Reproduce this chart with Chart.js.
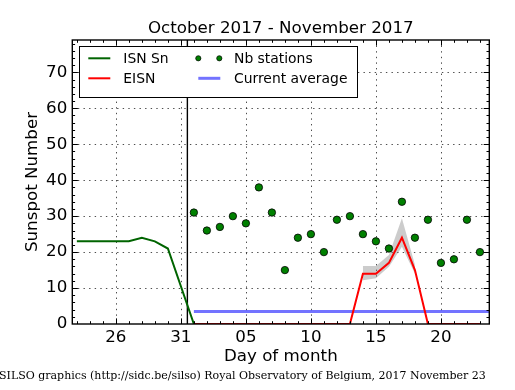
<!DOCTYPE html>
<html><head><meta charset="utf-8">
<script src="https://cdn.jsdelivr.net/npm/chart.js@4.4.0/dist/chart.umd.min.js"></script>
<style>html,body{margin:0;padding:0;background:#fff;overflow:hidden}</style>
</head><body><canvas id="c" width="515" height="390"></canvas>
<script>
const titleText = 'October 2017 - November 2017';
const xAxisTitle = 'Day of month';
const yAxisTitle = 'Sunspot Number';
const footerText = 'SILSO graphics (http://sidc.be/silso) Royal Observatory of Belgium, 2017 November 23';

// x = day count from 30 September 2017 (Oct 1 = 1, Nov 1 = 32)
const xTickDays = [26, 31, 36, 41, 46, 51];
const xTickLabels = ['26', '31', '05', '10', '15', '20'];
const yTickValues = [0, 10, 20, 30, 40, 50, 60, 70];
const monthBoundary = 31.5;

const isnDays   = [23, 24, 25, 26, 27, 28, 29, 30, 31, 32];
const isnValues = [23, 23, 23, 23, 23, 24, 23, 21, null, 0];

const eisnDays   = [32,33,34,35,36,37,38,39,40,41,42,43,44,45,46,47,48,49,50,51,52,53,54];
const eisnValues = [0,0,0,0,0,0,0,0,0,0,0,0,0,14,14,17,24,15,0,0,0,0,0];

const stationDays   = [32,33,34,35,36,37,38,39,40,41,42,43,44,45,46,47,48,49,50,51,52,53,54];
const stationValues = [31,26,27,30,28,38,31,15,24,25,20,29,30,25,23,21,34,24,29,17,18,29,20];

const bandDays  = [45, 46, 47, 48, 49];
const bandUpper = [16.1, 16.1, 19.2, 29.4, 16.5];
const bandLower = [12.2, 12.7, 15.9, 21.5, 14.0];

const avgDays   = [32, 55];
const avgValues = [3.5, 3.5];

const pts = (xs, ys) => xs.map((d, i) => ({x: d, y: ys[i]}));
const FONT = '"DejaVu Sans", sans-serif';

const ink = {
  id: 'ink',
  beforeDatasetsDraw(chart) {
    const {ctx, chartArea: a, scales: {x, y}} = chart;
    ctx.save();
    ctx.strokeStyle = '#000';
    ctx.lineWidth = 0.7;
    ctx.setLineDash([1.4, 4.2]);
    xTickDays.forEach(d => {
      const px = Math.round(x.getPixelForValue(d)) + 0.5;
      ctx.beginPath(); ctx.moveTo(px, a.top); ctx.lineTo(px, a.bottom); ctx.stroke();
    });
    yTickValues.forEach(v => {
      if (v === 0) return;
      const py = Math.round(y.getPixelForValue(v)) + 0.5;
      ctx.beginPath(); ctx.moveTo(a.left, py); ctx.lineTo(a.right, py); ctx.stroke();
    });
    ctx.setLineDash([]);
    ctx.lineWidth = 1.4;
    const bx = x.getPixelForValue(monthBoundary);
    ctx.beginPath(); ctx.moveTo(bx, a.top); ctx.lineTo(bx, a.bottom); ctx.stroke();
    ctx.restore();
  },
  afterDraw(chart) {
    const {ctx, chartArea: a, scales: {x, y}} = chart;
    ctx.save();
    // ticks (inward, all sides)
    ctx.strokeStyle = '#000';
    ctx.lineWidth = 1;
    const xMin = Math.ceil(x.min), xMax = Math.floor(x.max);
    for (let d = xMin; d <= xMax; d++) {
      const L = xTickDays.includes(d) ? 5.6 : 2.8;
      const px = Math.round(x.getPixelForValue(d)) + 0.5;
      ctx.beginPath();
      ctx.moveTo(px, a.bottom); ctx.lineTo(px, a.bottom - L);
      ctx.moveTo(px, a.top); ctx.lineTo(px, a.top + L);
      ctx.stroke();
    }
    for (let v = 2; v < y.max; v += 2) {
      const L = yTickValues.includes(v) ? 5.6 : 2.8;
      const py = Math.round(y.getPixelForValue(v)) + 0.5;
      ctx.beginPath();
      ctx.moveTo(a.left, py); ctx.lineTo(a.left + L, py);
      ctx.moveTo(a.right, py); ctx.lineTo(a.right - L, py);
      ctx.stroke();
    }
    // frame
    ctx.lineWidth = 1.4;
    ctx.strokeRect(a.left, a.top, a.right - a.left, a.bottom - a.top);

    // legend
    const ds = chart.data.datasets;
    const lx = 79, ly = 46, lw = 278, lh = 51;
    ctx.fillStyle = '#fff';
    ctx.fillRect(lx, ly, lw, lh);
    ctx.lineWidth = 1;
    ctx.strokeRect(lx + 0.5, ly + 0.5, lw, lh);
    ctx.font = '13.9px ' + FONT;
    ctx.textBaseline = 'alphabetic';
    ctx.textAlign = 'left';
    const entries = [
      {d: ds[2], col: 0, row: 0},
      {d: ds[1], col: 0, row: 1},
      {d: ds[0], col: 1, row: 0},
      {d: ds[3], col: 1, row: 1}
    ];
    entries.forEach(e => {
      const x0 = e.col === 0 ? 88.3 : 198.3;
      const tx = e.col === 0 ? 123.3 : 234;
      const cy = e.row === 0 ? 58.3 : 78.3;
      if (e.d.showLine === false) {
        [x0, x0 + 21].forEach(cx => {
          ctx.beginPath(); ctx.arc(cx, cy, 2.6, 0, Math.PI * 2);
          ctx.fillStyle = e.d.pointBackgroundColor; ctx.fill();
          ctx.lineWidth = 0.7; ctx.strokeStyle = '#000'; ctx.stroke();
        });
      } else {
        ctx.strokeStyle = e.d.borderColor; ctx.lineWidth = e.d.borderWidth;
        ctx.beginPath(); ctx.moveTo(x0, cy); ctx.lineTo(x0 + 22, cy); ctx.stroke();
      }
      ctx.fillStyle = '#000';
      ctx.fillText(e.d.label, tx, cy + 5);
    });

    // title
    ctx.font = '16.7px ' + FONT;
    ctx.textAlign = 'center';
    ctx.fillStyle = '#000';
    ctx.fillText(titleText, (a.left + a.right) / 2, 33);
    // footer
    ctx.font = '11px "DejaVu Serif", serif';
    ctx.textAlign = 'left';
    ctx.fillText(footerText, -1, 379);
    ctx.restore();
  }
};

new Chart(document.getElementById('c'), {
  type: 'line',
  data: {
    datasets: [
      {label: 'Nb stations', data: pts(stationDays, stationValues), showLine: false,
       pointRadius: 3.7, pointHoverRadius: 3.7, pointBackgroundColor: '#008000', pointBorderColor: '#000', pointBorderWidth: 0.8},
      {label: 'EISN', data: pts(eisnDays, eisnValues), borderColor: '#ff0000', borderWidth: 2,
       pointRadius: 0, tension: 0, clip: 0, fill: false},
      {label: 'ISN Sn', data: pts(isnDays, isnValues), borderColor: '#006400', borderWidth: 2,
       pointRadius: 0, tension: 0, spanGaps: true, clip: 0, fill: false},
      {label: 'Current average', data: pts(avgDays, avgValues), borderColor: 'rgba(0,0,255,0.55)', borderWidth: 3,
       pointRadius: 0, clip: 0, fill: false},
      {label: 'band upper', data: pts(bandDays, bandUpper), borderWidth: 0, borderColor: 'rgba(0,0,0,0)',
       backgroundColor: 'rgba(128,128,128,0.4)', pointRadius: 0, fill: '+1', clip: 0},
      {label: 'band lower', data: pts(bandDays, bandLower), borderWidth: 0, borderColor: 'rgba(0,0,0,0)',
       pointRadius: 0, fill: false, clip: 0}
    ]
  },
  options: {
    responsive: false,
    animation: false,
    devicePixelRatio: 1,
    events: [],
    layout: {padding: {left: 23, top: 40, right: 25.7, bottom: 0}},
    plugins: {legend: {display: false}, title: {display: false}, tooltip: {enabled: false}},
    scales: {
      x: {
        type: 'linear', min: 22.65, max: 54.72,
        afterBuildTicks: s => { s.ticks = xTickDays.map(v => ({value: v})); },
        afterFit: s => { s.height = 66; },
        grid: {display: false, drawTicks: false},
        border: {display: false},
        ticks: {color: '#000', font: {family: FONT, size: 16.7}, padding: 4, maxRotation: 0, autoSkip: false,
                callback: v => xTickLabels[xTickDays.indexOf(v)]},
        title: {display: true, text: xAxisTitle, color: '#000', font: {family: FONT, size: 16.7}, padding: {top: 0, bottom: 23}}
      },
      y: {
        type: 'linear', min: 0, max: 79,
        afterBuildTicks: s => { s.ticks = yTickValues.map(v => ({value: v})); },
        afterFit: s => { s.width = 49.3; },
        grid: {display: false, drawTicks: false},
        border: {display: false},
        ticks: {color: '#000', font: {family: FONT, size: 16.7}, padding: 5},
        title: {display: true, text: yAxisTitle, color: '#000', font: {family: FONT, size: 16.7}, padding: {top: 0, bottom: 0}}
      }
    }
  },
  plugins: [ink]
});
</script>
</body></html>
